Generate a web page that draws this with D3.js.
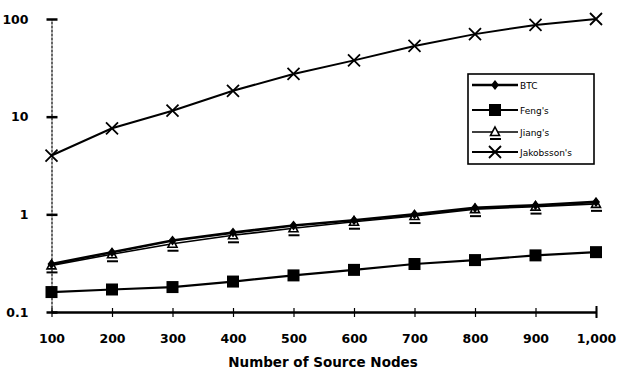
<!DOCTYPE html>
<html><head><meta charset="utf-8">
<script src="https://cdn.jsdelivr.net/npm/d3@7"></script>
<style>body{margin:0;background:#fff}svg{display:block}</style>
</head><body>
<svg id="c" width="620" height="375"></svg>
<script>
const nodes = [100,200,300,400,500,600,700,800,900,1000];
const btc = [0.31,0.41,0.54,0.65,0.77,0.87,1.0,1.17,1.24,1.34];
const feng = [0.16,0.17,0.18,0.205,0.237,0.27,0.31,0.34,0.38,0.41];
const jiang = [0.30,0.39,0.50,0.61,0.72,0.84,0.96,1.13,1.20,1.28];
const jakobsson = [4.0,7.6,11.5,18.4,27.4,37.7,53,70,87,100];
const yTicks = [0.1,1,10,100];
const yTickLabels = ["0.1","1","10","100"];
const xTickLabels = ["100","200","300","400","500","600","700","800","900","1,000"];
const seriesNames = ["BTC","Feng's","Jiang's","Jakobsson's"];

const svg = d3.select("#c");
const x = d3.scaleLinear().domain([100,1000]).range([51.5,596]);
const y = d3.scaleLog().domain([0.1,100]).range([312,19]);
const font = "'DejaVu Sans', Verdana, sans-serif";

// y axis
const yAxis = d3.axisLeft(y).tickValues(yTicks).tickFormat((d,i)=>yTickLabels[i]).tickSize(0).tickPadding(23);
const gy = svg.append("g").attr("transform","translate(51.5,0)").call(yAxis);
gy.select(".domain").attr("stroke","#000").attr("stroke-width",1.2).attr("stroke-dasharray","3,1");
gy.selectAll(".tick text").attr("font-family",font).attr("font-size",12.5).attr("font-weight","bold").attr("fill","#000");
gy.selectAll(".tick").append("line").attr("x1",-5).attr("x2",6).attr("stroke","#000").attr("stroke-width",2.5);

// x axis
const xAxis = d3.axisBottom(x).tickValues(nodes).tickFormat((d,i)=>xTickLabels[i]).tickSize(0).tickPadding(22);
const gx = svg.append("g").attr("transform","translate(0,312)").call(xAxis);
gx.select(".domain").attr("stroke","#000").attr("stroke-width",2.5);
gx.selectAll(".tick text").attr("font-family",font).attr("font-size",12.5).attr("font-weight","bold").attr("fill","#000");
gx.selectAll(".tick").append("line").attr("y1",-4).attr("y2",5).attr("stroke","#000").attr("stroke-width",1.2);
gx.select(".tick:last-of-type line").attr("y1",-6).attr("y2",6).attr("stroke-width",2);

svg.append("text").attr("x",323).attr("y",367).attr("text-anchor","middle")
  .attr("font-family",font).attr("font-size",13.5).attr("font-weight","bold").text("Number of Source Nodes");

const line = d3.line().x((d,i)=>x(nodes[i])).y(d=>y(d));

function marker(g, type, cx, cy){
  if(type===0){
    g.append("path").attr("d",`M${cx},${cy-5}L${cx+4},${cy}L${cx},${cy+5}L${cx-4},${cy}Z`).attr("fill","#000");
  } else if(type===1){
    g.append("rect").attr("x",cx-6).attr("y",cy-6).attr("width",12).attr("height",12).attr("fill","#000");
  } else if(type===2){
    g.append("path").attr("d",`M${cx},${cy-5}L${cx+4.5},${cy+3.5}L${cx-4.5},${cy+3.5}Z`).attr("fill","#fff").attr("stroke","#000").attr("stroke-width",1.6);
    g.append("line").attr("x1",cx-5).attr("x2",cx+6).attr("y1",cy+7).attr("y2",cy+7).attr("stroke","#000").attr("stroke-width",2);
  } else {
    g.append("path").attr("d",`M${cx-6},${cy-6}L${cx+6},${cy+6}M${cx+6},${cy-6}L${cx-6},${cy+6}`).attr("stroke","#000").attr("stroke-width",1.8);
  }
}

const all = [btc,feng,jiang,jakobsson];
const widths = [2.6,2.2,1.6,2.0];
const order = [2,0,1,3];
order.forEach(k=>{
  const g = svg.append("g");
  g.append("path").datum(all[k]).attr("d",line).attr("fill","none").attr("stroke","#000").attr("stroke-width",widths[k]);
  all[k].forEach((v,i)=>marker(g,k,x(nodes[i]),y(v)));
});

// legend
const lg = svg.append("g");
lg.append("rect").attr("x",468).attr("y",74).attr("width",126).attr("height",90).attr("fill","#fff").attr("stroke","#000").attr("stroke-width",1.6);
const rowsY = [85,110,132,152];
seriesNames.forEach((n,k)=>{
  lg.append("line").attr("x1",472).attr("x2",518).attr("y1",rowsY[k]).attr("y2",rowsY[k]).attr("stroke","#000").attr("stroke-width",widths[k]);
  marker(lg,k,495,rowsY[k]);
  lg.append("text").attr("x",520).attr("y",rowsY[k]+3.5).attr("font-family",font).attr("font-size",9).attr("fill","#000").text(n);
});
</script>
</body></html>
